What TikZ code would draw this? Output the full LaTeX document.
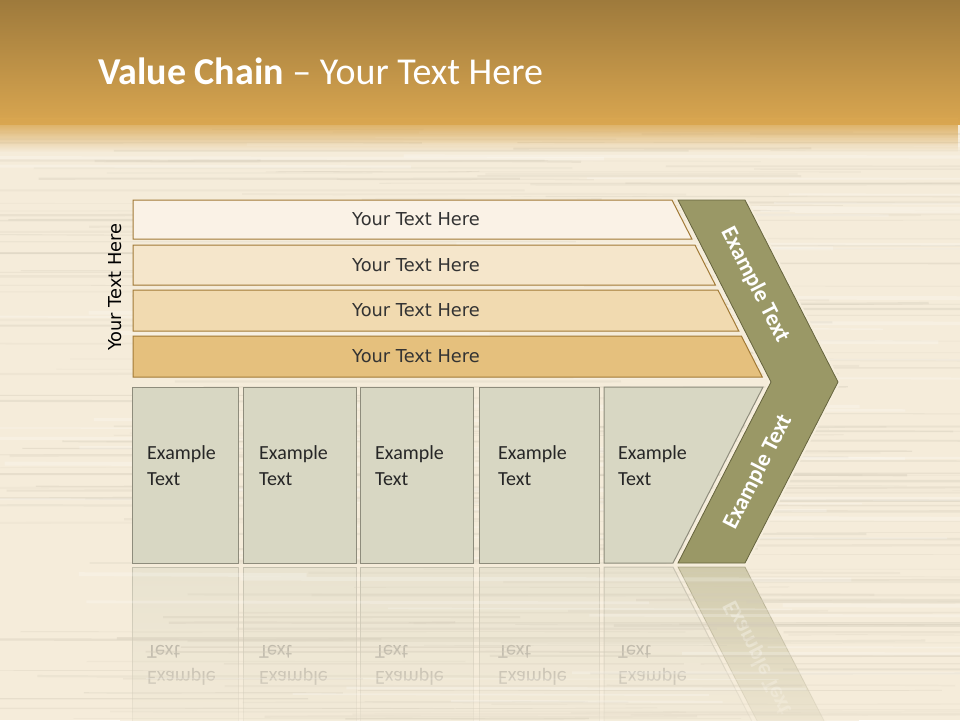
\documentclass[tikz,border=0pt]{standalone}
\usepackage{fontspec}
\setmainfont{Carlito}
\newfontfamily\dejavu{DejaVu Sans}
\usetikzlibrary{fadings}

\definecolor{woodbase}{HTML}{F5ECDA}
\definecolor{woodline}{HTML}{D4CCBA}
\definecolor{hdtop}{HTML}{9E7A3C}
\definecolor{hdbot}{HTML}{D9A650}
\definecolor{barA}{HTML}{FAF2E6}
\definecolor{barB}{HTML}{F5E6CB}
\definecolor{barC}{HTML}{F1DAB0}
\definecolor{barD}{HTML}{E5C07D}
\definecolor{barline}{HTML}{A27A36}
\definecolor{boxfill}{HTML}{D8D7C3}
\definecolor{boxline}{HTML}{8E8C7C}
\definecolor{olive}{HTML}{9A9866}
\definecolor{oliveline}{HTML}{66643E}
\definecolor{glow}{HTML}{F6EEDC}

\tikzset{
  bar/.style={draw=barline, line width=1pt},
  box/.style={fill=boxfill, draw=boxline, line width=1pt},
  chev/.style={fill=olive, draw=oliveline, line width=0.8pt, line join=miter},
  barlabel/.style={font=\dejavu\fontsize{17.8}{21}\selectfont, text=black!80},
  boxlabel/.style={font=\fontsize{20}{26}\selectfont, align=left, anchor=base west, text=black!85, inner sep=0pt},
  chevlabel/.style={font=\bfseries\fontsize{23}{26}\selectfont, text=white},
}

% boxes and chevron, used twice (picture and reflection)
\newcommand{\lowerrow}[1]{%
  \foreach \l/\r/\tx [count=\i] in {132/238/147, 243/356/259, 360/473/375, 479/599/498}{
    \filldraw[box] (\l,387) rectangle (\r,563);
    \node[boxlabel] (#1\i) at (\tx,485) {Example\\Text};
  }
  \filldraw[box] (604,387) -- (763,387) -- (673,563) -- (604,563) -- cycle;
  \node[boxlabel] (#15) at (618,485) {Example\\Text};
  % chevron
  \draw[glow, line width=5pt, line join=miter] (678,200) -- (745,200) -- (838,382) -- (745,563) -- (678,563) -- (771,382) -- cycle;
  \filldraw[chev] (678,200) -- (745,200) -- (838,382) -- (745,563) -- (678,563) -- (771,382) -- cycle;
  \node[chevlabel, rotate=63] (#1chev) at (758,472) {Example Text};
}

\begin{document}
\begin{tikzpicture}[x=1pt, y=-1pt]
  \useasboundingbox (0,0) rectangle (960,720);
  % Wood background
  \fill[woodbase] (0,0) rectangle (960,720);

  % Reflection
  \begin{scope}[shift={(0,1130)}, yscale=-1, transform shape, opacity=0.4]
    \lowerrow{refl}
  \end{scope}
  \fill[woodbase, path fading=north] (120,564) rectangle (860,760);

  % Grain
  \pgfmathsetseed{42}
  \foreach \k in {1,...,220}{
    \pgfmathsetmacro{\yy}{128+592*rnd}
    \pgfmathsetmacro{\xa}{-150+950*rnd}
    \pgfmathsetmacro{\xb}{\xa+200+600*rnd}
    \pgfmathsetmacro{\dy}{3*rnd-1.5}
    \pgfmathsetmacro{\lw}{0.5+2*rnd}
    \pgfmathsetmacro{\op}{0.12+0.3*rnd}
    \draw[woodline, line width=\lw pt, opacity=\op] (\xa,\yy) .. controls ({\xa+(\xb-\xa)/3},\yy+\dy) and ({\xa+2*(\xb-\xa)/3},\yy-\dy) .. (\xb,\yy+0.5*\dy);
  }
  \foreach \k in {1,...,60}{
    \pgfmathsetmacro{\yy}{128+592*rnd}
    \pgfmathsetmacro{\xa}{-150+950*rnd}
    \pgfmathsetmacro{\xb}{\xa+200+600*rnd}
    \pgfmathsetmacro{\lw}{1+3*rnd}
    \draw[white, line width=\lw pt, opacity=0.22] (\xa,\yy) -- (\xb,\yy+1);
  }

  % Header
  \shade[top color=hdtop, bottom color=hdbot] (0,0) rectangle (960,124);
  \fill[hdbot, path fading=south] (0,118) rectangle (960,152);
  \node[anchor=base west, text=white, font=\fontsize{38}{44}\selectfont, inner sep=0pt] (title) at (98,84) {\textbf{Value Chain} – Your Text Here};

  % Bars
  \foreach \t/\b/\c [count=\i] in {200/239/barA, 245/285/barB, 290/331/barC, 336/377/barD}{
    \filldraw[bar, fill=\c] (133,\t) -- ({672+0.51*(\t-200)},\t) -- ({672+0.51*(\b-200)},\b) -- (133,\b) -- cycle;
    \node[barlabel] (bar\i) at (416,{(\t+\b)/2}) {Your Text Here};
  }
  \node[barlabel, text=black, rotate=90] (side) at (115,287) {Your Text Here};

  % Boxes and chevron
  \lowerrow{box}
  \node[chevlabel, rotate=-63] (chevtop) at (755,285) {Example Text};
\end{tikzpicture}
\end{document}
